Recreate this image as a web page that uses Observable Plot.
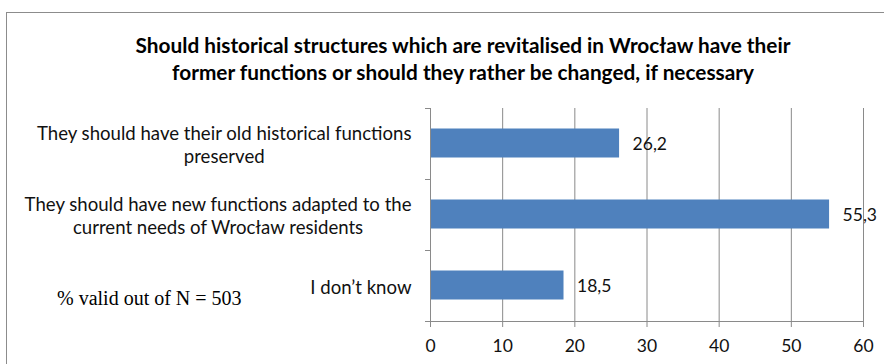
<!DOCTYPE html>
<html>
<head>
<meta charset="utf-8">
<script src="https://cdn.jsdelivr.net/npm/d3@7"></script>
<script src="https://cdn.jsdelivr.net/npm/@observablehq/plot@0.6"></script>
<style>
  html, body { margin: 0; padding: 0; background: #fff; overflow: hidden; }
  #wrap { position: relative; width: 884px; height: 364px; overflow: hidden; }
  #border { position: absolute; left: 6px; top: 12px; width: 1000px; height: 1000px; border: 1.5px solid #8c8c8c; pointer-events: none; }
  #title { position: absolute; left: 0; top: 31px; width: 926px; text-align: center; font-family: Lato, sans-serif; font-weight: bold; font-size: 20.8px; line-height: 27px; color: #000; }
  #note { position: absolute; left: 57px; top: 288px; font-family: "Liberation Serif", serif; font-size: 20px; line-height: 20px; color: #000; white-space: nowrap; }
  #chart { position: absolute; left: 0; top: 0; }
</style>
</head>
<body>
<div id="wrap">
  <div id="border"></div>
  <div id="chart"></div>
  <div id="title">Should historical structures which are revitalised in Wrocław have their<br>former functions or should they rather be changed, if necessary</div>
  <div id="note">% valid out of N = 503</div>
</div>
<script>
const categories = [
  "They should have their old historical functions\npreserved",
  "They should have new functions adapted to the\ncurrent needs of Wrocław residents",
  "I don’t know"
];
const values = [26.2, 55.3, 18.5];
const valueLabels = ["26,2", "55,3", "18,5"];
const xTicks = [0, 10, 20, 30, 40, 50, 60];

const rows = categories.map((c, i) => ({category: c, value: values[i], label: valueLabels[i]}));

const grey = "#8a8a8a";
const H = 364, mTop = 108, mBottom = 43;
const step = (H - mTop - mBottom) / categories.length;

const chart = Plot.plot({
  width: 884,
  height: H,
  marginLeft: 430,
  marginRight: 21,
  marginTop: mTop,
  marginBottom: mBottom,
  x: {domain: [0, 60], ticks: xTicks, label: null},
  y: {domain: categories, padding: 0, label: null},
  style: {fontFamily: "Lato, sans-serif", fontSize: "16px", color: "#000", background: "transparent"},
  marks: [
    Plot.ruleX(xTicks.slice(1), {stroke: grey, strokeWidth: 1}),
    Plot.barX(rows, {x: "value", y: "category", fill: "#4f81bd", insetTop: 20.5, insetBottom: 21.5}),
    Plot.text(rows, {x: "value", y: "category", text: "label", textAnchor: "start", dx: 13, fontSize: 17.5, fill: "#111"}),
    Plot.frame({anchor: "left", stroke: grey}),
    Plot.frame({anchor: "bottom", stroke: grey}),
    Plot.axisX({ticks: xTicks, tickSize: 6, tickPadding: 12, fontSize: 17.5, stroke: grey, fill: "#111", label: null}),
    Plot.axisY({tickSize: 0, tickPadding: 19, fontSize: 18.6, fill: "#111", label: null, lineHeight: 1.27}),
    Plot.axisY({tickSize: 5, text: null, stroke: grey, dy: -step / 2, label: null}),
    Plot.axisY({tickSize: 5, text: null, stroke: grey, dy: step / 2, label: null})
  ]
});
document.getElementById("chart").appendChild(chart);

// center multi-line category labels relative to their longest line
d3.select(chart).selectAll('g[aria-label="y-axis tick label"] text').each(function() {
  const spans = Array.from(this.querySelectorAll("tspan"));
  if (spans.length < 2) return;
  const widths = spans.map(s => s.getComputedTextLength());
  const W = Math.max(...widths);
  spans.forEach((s, i) => s.setAttribute("dx", -(W - widths[i]) / 2));
});
</script>
</body>
</html>
